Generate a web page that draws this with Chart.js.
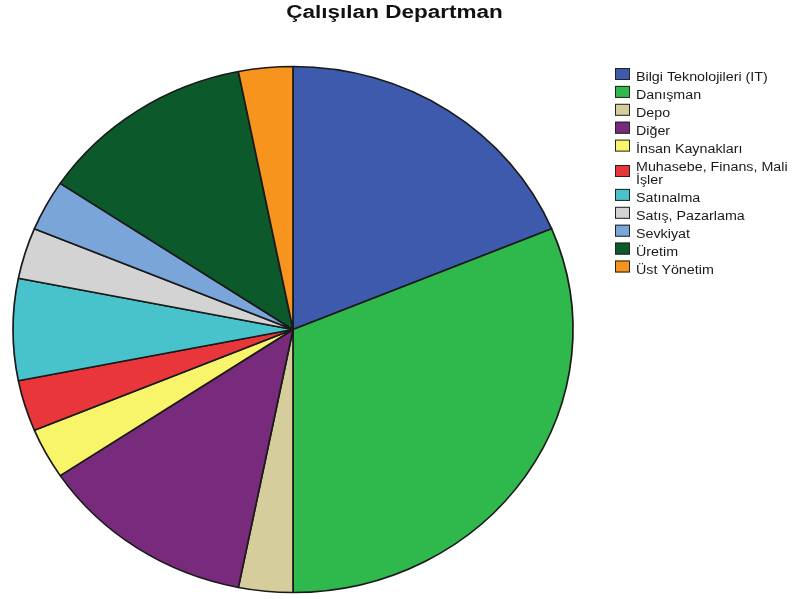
<!DOCTYPE html>
<html>
<head>
<meta charset="utf-8">
<script src="https://cdn.jsdelivr.net/npm/chart.js@4.4.1/dist/chart.umd.min.js"></script>
<style>
  html, body { margin: 0; padding: 0; background: #fff; }
  #box { width: 796px; height: 599px; }
</style>
</head>
<body>
<div id="box"><canvas id="chart"></canvas></div>
<script>
// departments and counts (32 people total)
const departments = ['Bilgi Teknolojileri (IT)', 'Danışman', 'Depo', 'Diğer', 'İnsan Kaynakları',
  ['Muhasebe, Finans, Mali', 'İşler'], 'Satınalma', 'Satış, Pazarlama', 'Sevkiyat', 'Üretim', 'Üst Yönetim'];
const counts = [6, 10, 1, 4, 1, 1, 2, 1, 1, 4, 1];
const colors = ['#3e5aac', '#2fb84b', '#d5cd9b', '#782b7d', '#f9f56b', '#e9363a',
  '#49c3cb', '#d3d3d3', '#79a5d9', '#0c5a2b', '#f7941e'];
const title = 'Çalışılan Departman';

// the original picture is stretched sideways: wider pie and wider glyphs
const stretch = 280 / 263;

const ellipse = {
  id: 'ellipse',
  beforeDatasetsDraw(chart) {
    const arc = chart.getDatasetMeta(0).data[0];
    const ctx = chart.ctx;
    ctx.save();
    ctx.translate(arc.x, arc.y);
    ctx.scale(stretch, 1);
    ctx.translate(-arc.x, -arc.y);
  },
  afterDatasetsDraw(chart) {
    chart.ctx.restore();
  }
};

function wideText(ctx, text, x, y, sx) {
  ctx.save();
  ctx.translate(x, y);
  ctx.scale(sx, 1);
  ctx.fillText(text, 0, 0);
  ctx.restore();
}

// title and legend drawn by hand so they sit where the original has them
const decor = {
  id: 'decor',
  afterDraw(chart) {
    const ctx = chart.ctx;
    ctx.save();
    ctx.fillStyle = '#111';
    ctx.font = 'bold 18px "Liberation Sans", Arial, sans-serif';
    ctx.textAlign = 'left';
    ctx.textBaseline = 'alphabetic';
    const tsx = 1.25;
    const tw = ctx.measureText(title).width * tsx;
    wideText(ctx, title, 394.5 - tw / 2, 17.5, tsx);

    ctx.font = '12px "Liberation Sans", Arial, sans-serif';
    let y = 81;
    departments.forEach((d, i) => {
      const lines = Array.isArray(d) ? d : [d];
      const boxY = lines.length > 1 ? y + 0.5 : y - 7;
      ctx.fillStyle = colors[i];
      ctx.fillRect(615, boxY - 6, 15, 12);
      ctx.strokeStyle = '#222';
      ctx.lineWidth = 1;
      ctx.strokeRect(615.5, boxY - 5.5, 14, 11);
      ctx.fillStyle = '#1a1a1a';
      lines.forEach((l, k) => wideText(ctx, l, 636, y + k * 13.5, 1.19));
      y += 17.9 + (lines.length - 1) * 13.5;
    });
    ctx.restore();
  }
};

new Chart(document.getElementById('chart'), {
  type: 'pie',
  data: {
    labels: departments,
    datasets: [{
      data: counts,
      backgroundColor: colors,
      borderColor: '#1a1a1a',
      borderWidth: 1.6
    }]
  },
  options: {
    responsive: true,
    maintainAspectRatio: false,
    animation: false,
    radius: 263,
    layout: { padding: { left: 13, right: 223, top: 66, bottom: 6 } },
    plugins: {
      legend: { display: false },
      title: { display: false },
      tooltip: { enabled: false }
    }
  },
  plugins: [ellipse, decor]
});
</script>
</body>
</html>
